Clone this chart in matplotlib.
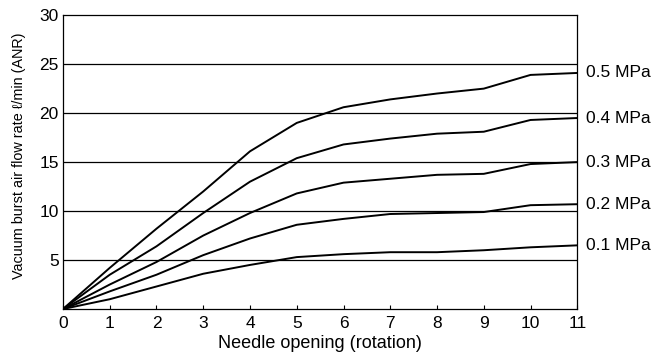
import matplotlib
matplotlib.use("Agg")
from matplotlib import pyplot as plt

plt.rcParams['font.family'] = ['Liberation Sans', 'DejaVu Sans']

rotations = [0, 1, 2, 3, 4, 5, 6, 7, 8, 9, 10, 11]
p05 = [0, 4.2, 8.2, 12.0, 16.1, 19.0, 20.6, 21.4, 22.0, 22.5, 23.9, 24.1]
p04 = [0, 3.5, 6.4, 9.8, 13.0, 15.4, 16.8, 17.4, 17.9, 18.1, 19.3, 19.5]
p03 = [0, 2.5, 4.8, 7.5, 9.8, 11.8, 12.9, 13.3, 13.7, 13.8, 14.8, 15.0]
p02 = [0, 1.8, 3.5, 5.5, 7.2, 8.6, 9.2, 9.7, 9.8, 9.9, 10.6, 10.7]
p01 = [0, 1.0, 2.3, 3.6, 4.5, 5.3, 5.6, 5.8, 5.8, 6.0, 6.3, 6.5]
series = [("0.5 MPa", p05), ("0.4 MPa", p04), ("0.3 MPa", p03),
          ("0.2 MPa", p02), ("0.1 MPa", p01)]

fig = plt.figure(figsize=(6.56, 3.61), dpi=100)
ax = fig.add_axes([0.096, 0.144, 0.784, 0.814])

# horizontal grid
for yv in [5, 10, 15, 20, 25]:
    ax.axhline(yv, color="black", lw=0.9, zorder=1)

for name, vals in series:
    ax.plot(rotations, vals, color="black", lw=1.4, zorder=2)
    ax.annotate(name, xy=(rotations[-1], vals[-1]), xytext=(6, 0),
                textcoords="offset points", va="center", ha="left",
                fontsize=12.5, annotation_clip=False)

ax.set_xlim(0, 11)
ax.set_ylim(0, 30)
ax.set_xticks(rotations)
ax.set_yticks([5, 10, 15, 20, 25, 30])
ax.tick_params(axis="x", direction="in", length=3, labelsize=12.5, pad=5)
ax.tick_params(axis="y", length=0, labelsize=12.5, pad=3)
for s in ax.spines.values():
    s.set_linewidth(0.9)
ax.set_xlabel("Needle opening (rotation)", fontsize=13, labelpad=3)
ax.set_ylabel("Vacuum burst air flow rate ℓ/min (ANR)", fontsize=10.4)
ax.yaxis.set_label_coords(-0.072, 0.52)

fig.savefig("out.png", dpi=100)
